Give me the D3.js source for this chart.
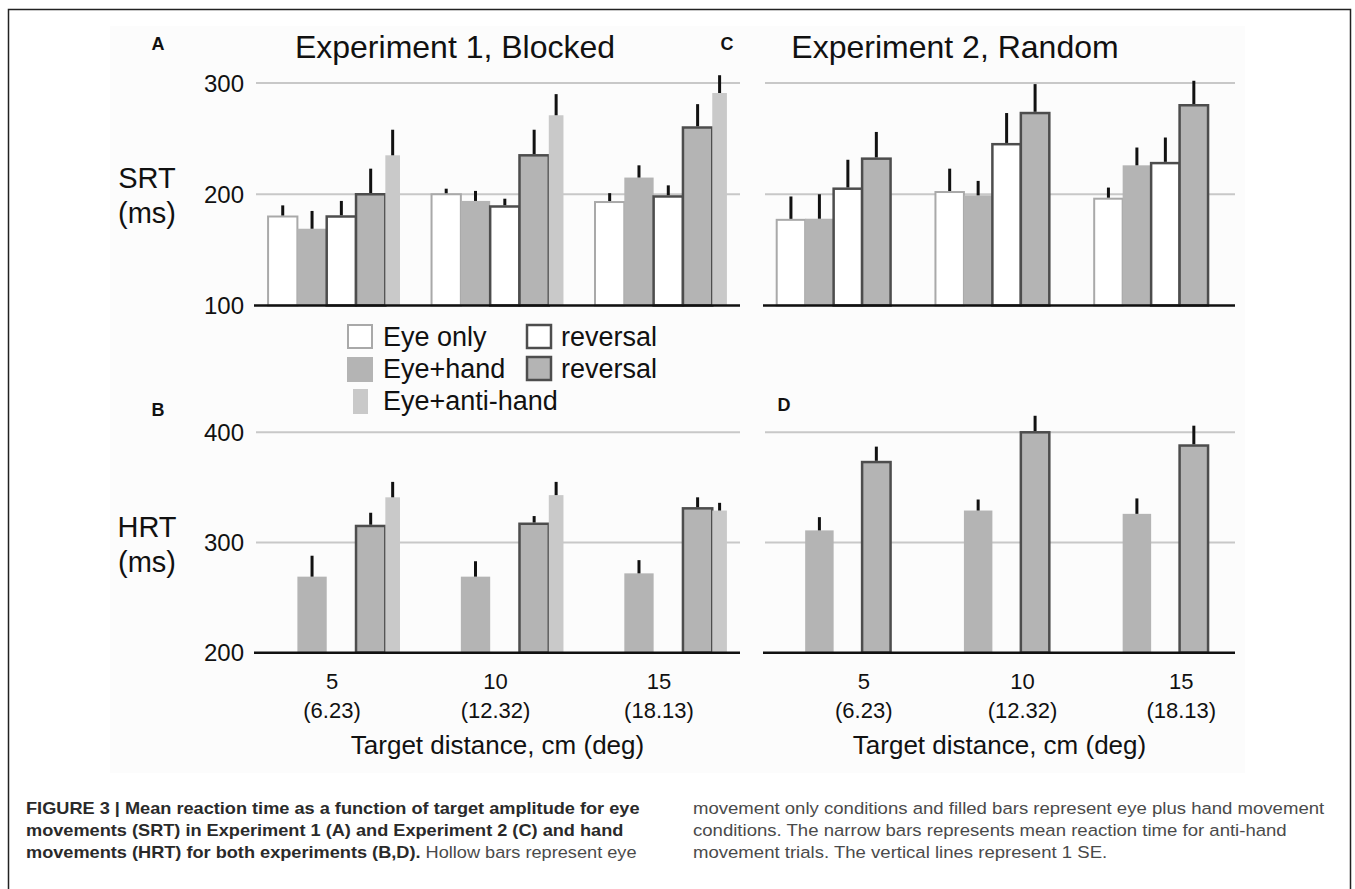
<!DOCTYPE html>
<html>
<head>
<meta charset="utf-8">
<script src="https://cdn.jsdelivr.net/npm/d3@7"></script>
<style>
  body { margin: 0; background: #fff; }
  svg { display: block; font-family: "Liberation Sans", Arial, sans-serif; }
</style>
</head>
<body>
<div id="fig"></div>
<script>
// target distances (cm) and their visual angle
var distances = ["5", "10", "15"];
var degrees = ["(6.23)", "(12.32)", "(18.13)"];

// series order inside a group: eye only, eye+hand, eye only reversal, eye+hand reversal, eye+anti-hand
var seriesNames = ["Eye only", "Eye+hand", "reversal", "reversal", "Eye+anti-hand"];

// Experiment 1 SRT (panel A)
var srt1EyeOnly = [180, 200, 193], srt1EyeOnlySE = [10, 5, 8];
var srt1EyeHand = [169, 194, 215], srt1EyeHandSE = [16, 9, 11];
var srt1EyeOnlyRev = [180, 189, 198], srt1EyeOnlyRevSE = [14, 7, 10];
var srt1EyeHandRev = [200, 235, 260], srt1EyeHandRevSE = [23, 23, 21];
var srt1Anti = [235, 271, 291], srt1AntiSE = [23, 19, 16];

// Experiment 2 SRT (panel C)
var srt2EyeOnly = [177, 202, 196], srt2EyeOnlySE = [21, 21, 10];
var srt2EyeHand = [178, 199, 226], srt2EyeHandSE = [22, 13, 16];
var srt2EyeOnlyRev = [205, 245, 228], srt2EyeOnlyRevSE = [26, 28, 23];
var srt2EyeHandRev = [232, 273, 280], srt2EyeHandRevSE = [24, 26, 22];

// Experiment 1 HRT (panel B)
var hrt1EyeHand = [269, 269, 272], hrt1EyeHandSE = [19, 14, 12];
var hrt1EyeHandRev = [315, 317, 331], hrt1EyeHandRevSE = [12, 7, 10];
var hrt1Anti = [341, 343, 329], hrt1AntiSE = [14, 12, 7];

// Experiment 2 HRT (panel D)
var hrt2EyeHand = [311, 329, 326], hrt2EyeHandSE = [12, 10, 14];
var hrt2EyeHandRev = [373, 400, 388], hrt2EyeHandRevSE = [14, 15, 18];

var srtTicks = [100, 200, 300];
var hrtTicks = [200, 300, 400];

// bar styles by slot
var styles = [
    {fill: "#fff", stroke: "#a9a9a9", sw: 2},
    {fill: "#b4b4b4", stroke: "none", sw: 0},
    {fill: "#fff", stroke: "#4d4d4d", sw: 2.5},
    {fill: "#b4b4b4", stroke: "#4d4d4d", sw: 2.5},
    {fill: "#c9c9c9", stroke: "none", sw: 0}
];

var W = 1355, H = 889;
var svg = d3.select("#fig").append("svg").attr("width", W).attr("height", H);

// frame and figure background
svg.append("rect").attr("x", 8.5).attr("y", 9.5).attr("width", 1342).attr("height", 900)
    .attr("fill", "#fff").attr("stroke", "#222").attr("stroke-width", 1.5);
svg.append("rect").attr("x", 110).attr("y", 26).attr("width", 1135).attr("height", 747)
    .attr("fill", "#fcfcfc");

function series(vals, ses, slot){
    return vals.map(function(v, i){ return {group: distances[i], value: v, se: ses[i], slot: slot}; });
}

var panels = [
    {letter: "A", x0: 255, w: 485, top: 83, bottom: 305.5, ticks: srtTicks, showTicks: true,
     title: "Experiment 1, Blocked", titleX: 200, ylab: ["SRT", "(ms)"],
     data: [].concat(series(srt1EyeOnly, srt1EyeOnlySE, 0), series(srt1EyeHand, srt1EyeHandSE, 1),
        series(srt1EyeOnlyRev, srt1EyeOnlyRevSE, 2), series(srt1EyeHandRev, srt1EyeHandRevSE, 3),
        series(srt1Anti, srt1AntiSE, 4))},
    {letter: "C", x0: 764, w: 471, top: 83, bottom: 305.5, ticks: srtTicks, showTicks: false,
     title: "Experiment 2, Random", titleX: 191,
     data: [].concat(series(srt2EyeOnly, srt2EyeOnlySE, 0), series(srt2EyeHand, srt2EyeHandSE, 1),
        series(srt2EyeOnlyRev, srt2EyeOnlyRevSE, 2), series(srt2EyeHandRev, srt2EyeHandRevSE, 3))},
    {letter: "B", x0: 255, w: 485, top: 432.3, bottom: 652.7, ticks: hrtTicks, showTicks: true,
     ylab: ["HRT", "(ms)"], xlabels: true, labelShift: -2,
     data: [].concat(series(hrt1EyeHand, hrt1EyeHandSE, 1), series(hrt1EyeHandRev, hrt1EyeHandRevSE, 3),
        series(hrt1Anti, hrt1AntiSE, 4))},
    {letter: "D", x0: 764, w: 471, top: 432.3, bottom: 652.7, ticks: hrtTicks, showTicks: false,
     xlabels: true, labelShift: 23,
     data: [].concat(series(hrt2EyeHand, hrt2EyeHandSE, 1), series(hrt2EyeHandRev, hrt2EyeHandRevSE, 3))}
];

panels.forEach(function(p){
    var g = svg.append("g").attr("transform", "translate(" + p.x0 + ",0)");
    var x = d3.scaleBand().domain(distances).range([0, p.w]).paddingInner(0.193).paddingOuter(0.08);
    // slot positions inside a group: four full bars and a half-width one
    var slot = d3.scaleLinear().domain([0, 4.5]).range([0, x.bandwidth()]);
    var y = d3.scaleLinear().domain(d3.extent(p.ticks)).range([p.bottom, p.top]);

    // grid lines
    g.selectAll(".grid").data(p.ticks.slice(1)).enter().append("line")
        .attr("x1", 1).attr("x2", p.w)
        .attr("y1", function(d){ return y(d); }).attr("y2", function(d){ return y(d); })
        .attr("stroke", "#c8c8c8").attr("stroke-width", 2);

    if(p.showTicks){
        svg.selectAll(null).data(p.ticks).enter().append("text")
            .attr("x", 244).attr("y", function(d){ return y(d) + 8.5; })
            .attr("text-anchor", "end").attr("font-size", 24).attr("fill", "#111")
            .text(function(d){ return d; });
    }

    var bars = g.selectAll(".bar").data(p.data).enter();
    bars.append("rect")
        .attr("x", function(d){ return x(d.group) + slot(d.slot); })
        .attr("width", function(d){ return slot(d.slot === 4 ? 0.5 : 1) - slot(0); })
        .attr("y", function(d){ return y(d.value); })
        .attr("height", function(d){ return y(p.ticks[0]) - y(d.value); })
        .attr("fill", function(d){ return styles[d.slot].fill; })
        .attr("stroke", function(d){ return styles[d.slot].stroke; })
        .attr("stroke-width", function(d){ return styles[d.slot].sw; });

    // error bars (+1 SE)
    bars.append("line")
        .attr("x1", function(d){ return x(d.group) + slot(d.slot + (d.slot === 4 ? 0.25 : 0.5)); })
        .attr("x2", function(d){ return x(d.group) + slot(d.slot + (d.slot === 4 ? 0.25 : 0.5)); })
        .attr("y1", function(d){ return y(d.value) - (styles[d.slot].sw / 2); })
        .attr("y2", function(d){ return y(d.value + d.se); })
        .attr("stroke", "#111").attr("stroke-width", 3);

    // baseline
    g.append("line").attr("x1", -1).attr("x2", p.w)
        .attr("y1", y(p.ticks[0])).attr("y2", y(p.ticks[0]))
        .attr("stroke", "#111").attr("stroke-width", 2.5);

    if(p.xlabels){
        var lab = g.selectAll(".xl").data(distances).enter();
        lab.append("text")
            .attr("x", function(d){ return x(d) + x.bandwidth() / 2 + p.labelShift; })
            .attr("y", 689).attr("text-anchor", "middle").attr("font-size", 22).attr("fill", "#111")
            .text(function(d){ return d; });
        lab.append("text")
            .attr("x", function(d){ return x(d) + x.bandwidth() / 2 + p.labelShift; })
            .attr("y", 718).attr("text-anchor", "middle").attr("font-size", 22).attr("fill", "#111")
            .text(function(d, i){ return degrees[i]; });
        g.append("text").attr("x", p.w / 2).attr("y", 754).attr("text-anchor", "middle")
            .attr("font-size", 26).attr("fill", "#111").text("Target distance, cm (deg)");
    }

    if(p.title){
        g.append("text").attr("x", p.titleX).attr("y", 58).attr("text-anchor", "middle")
            .attr("font-size", 32).attr("fill", "#111").text(p.title);
    }
    if(p.ylab){
        svg.append("text").attr("x", 147).attr("y", (p.top + p.bottom) / 2 - 6)
            .attr("text-anchor", "middle").attr("font-size", 29).attr("fill", "#111").text(p.ylab[0]);
        svg.append("text").attr("x", 147).attr("y", (p.top + p.bottom) / 2 + 29)
            .attr("text-anchor", "middle").attr("font-size", 29).attr("fill", "#111").text(p.ylab[1]);
    }
});

// panel letters
var letters = [{t: "A", x: 158, y: 50}, {t: "C", x: 727, y: 50}, {t: "B", x: 158, y: 416}, {t: "D", x: 784, y: 411}];
svg.selectAll(".letter").data(letters).enter().append("text")
    .attr("x", function(d){ return d.x; }).attr("y", function(d){ return d.y; })
    .attr("text-anchor", "middle").attr("font-size", 18).attr("font-weight", "bold").attr("fill", "#111")
    .text(function(d){ return d.t; });

// legend
var legend = [
    {slot: 0, x: 348, y: 325, w: 24, label: seriesNames[0]},
    {slot: 2, x: 527, y: 325, w: 24, label: seriesNames[2]},
    {slot: 1, x: 347, y: 357, w: 26, label: seriesNames[1]},
    {slot: 3, x: 527, y: 357, w: 24, label: seriesNames[3]},
    {slot: 4, x: 353, y: 389, w: 15, label: seriesNames[4]}
];
var lg = svg.selectAll(".lg").data(legend).enter();
lg.append("rect")
    .attr("x", function(d){ return d.x; }).attr("y", function(d){ return d.y; })
    .attr("width", function(d){ return d.w; }).attr("height", function(d){ return d.slot === 1 || d.slot === 4 ? 25 : 23; })
    .attr("fill", function(d){ return styles[d.slot].fill; })
    .attr("stroke", function(d){ return styles[d.slot].stroke; })
    .attr("stroke-width", function(d){ return styles[d.slot].sw; });
lg.append("text")
    .attr("x", function(d){ return d.slot === 2 || d.slot === 3 ? 561 : 383; })
    .attr("y", function(d){ return d.y + 21; })
    .attr("font-size", 27).attr("fill", "#111")
    .text(function(d){ return d.label; });

// caption, two columns; each column is stretched so its first line fills the printed width
var left = [
    [{t: "FIGURE 3 | Mean reaction time as a function of target amplitude for eye", b: true}],
    [{t: "movements (SRT) in Experiment 1 (A) and Experiment 2 (C) and hand", b: true}],
    [{t: "movements (HRT) for both experiments (B,D).", b: true}, {t: " Hollow bars represent eye", b: false}]
];
var right = [
    [{t: "movement only conditions and filled bars represent eye plus hand movement", b: false}],
    [{t: "conditions. The narrow bars represents mean reaction time for anti-hand", b: false}],
    [{t: "movement trials. The vertical lines represent 1 SE.", b: false}]
];
function column(lines, x0, firstWidth){
    var col = svg.append("g").attr("font-size", 16.5);
    var texts = lines.map(function(line, i){
        var t = col.append("text").attr("x", 0).attr("y", 814 + i * 22);
        line.forEach(function(s){
            t.append("tspan").attr("font-weight", s.b ? "bold" : "normal")
                .attr("fill", s.b ? "#2a2a2a" : "#4a4a4a").text(s.t);
        });
        return t;
    });
    var sx = firstWidth / texts[0].node().getComputedTextLength();
    col.attr("transform", "translate(" + x0 + ",0) scale(" + sx + ",1)");
}
column(left, 26, 614);
column(right, 693, 632);
</script>
</body>
</html>
